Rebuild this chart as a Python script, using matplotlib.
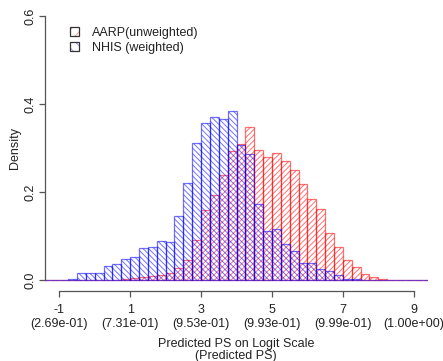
import numpy as np
import matplotlib.pyplot as plt
from matplotlib.patches import Patch
from matplotlib.legend_handler import HandlerTuple

plt.rcParams['font.family'] = ['Liberation Sans', 'DejaVu Sans']
plt.rcParams['hatch.linewidth'] = 0.7

# histogram bins on the logit scale (width 0.25)
bin_width = 0.25
bin_lo, bin_hi = -1.5, 9.5

# AARP (unweighted) densities, bins starting at 0.75
aarp_start = 0.75
aarp_density = [0.002, 0.004, 0.006, 0.009, 0.011, 0.015, 0.027, 0.046, 0.091, 0.159,
                0.193, 0.239, 0.293, 0.308, 0.347, 0.295, 0.279, 0.289, 0.270, 0.250,
                0.218, 0.185, 0.161, 0.108, 0.075, 0.046, 0.030, 0.014, 0.007, 0.003]

# NHIS (weighted) densities, bins starting at -0.75
nhis_start = -0.75
nhis_density = [0.002, 0.015, 0.017, 0.015, 0.031, 0.037, 0.048, 0.053, 0.072, 0.075,
                0.089, 0.087, 0.146, 0.220, 0.311, 0.357, 0.371, 0.366, 0.383, 0.306,
                0.286, 0.172, 0.111, 0.115, 0.083, 0.065, 0.038, 0.039, 0.024, 0.020,
                0.011, 0.002, 0.002]

tick_logit = [-1, 1, 3, 5, 7, 9]
tick_ps = ["(2.69e-01)", "(7.31e-01)", "(9.53e-01)", "(9.93e-01)", "(9.99e-01)", "(1.00e+00)"]
y_ticks = [0.0, 0.2, 0.4, 0.6]

edges = np.arange(bin_lo, bin_hi + bin_width / 2, bin_width)
lefts = edges[:-1]


def full_heights(start, vals):
    h = np.zeros(len(lefts))
    i0 = int(round((start - bin_lo) / bin_width))
    h[i0:i0 + len(vals)] = vals
    return h


red = (1, 0, 0, 0.55)
blue = (0, 0, 1, 0.55)
fs = 9.0

fig = plt.figure(figsize=(4.43, 3.61), dpi=100)
ax = fig.add_axes([45 / 443, 70.4 / 361, 383 / 443, 285.2 / 361])

ax.bar(lefts, full_heights(aarp_start, aarp_density), width=bin_width, align='edge',
       facecolor='none', edgecolor=red, hatch='//////', linewidth=0.9)
ax.bar(lefts, full_heights(nhis_start, nhis_density), width=bin_width, align='edge',
       facecolor='none', edgecolor=blue, hatch='\\\\\\\\\\\\', linewidth=0.9)

ax.set_xlim(-1.4, 9.4)
ax.set_ylim(-0.024, 0.624)
for s in ['top', 'right']:
    ax.spines[s].set_visible(False)
ax.spines['left'].set_bounds(0, 0.6)
ax.spines['bottom'].set_bounds(-1, 9)
for s in ['left', 'bottom']:
    ax.spines[s].set_color('#555555')
    ax.spines[s].set_linewidth(0.9)

ax.set_xticks(tick_logit)
ax.set_xticklabels([f"{t}\n{p}" for t, p in zip(tick_logit, tick_ps)],
                   linespacing=1.15, multialignment='center')
ax.set_yticks(y_ticks)
ax.set_yticklabels([f"{v:.1f}" for v in y_ticks], rotation=90, va='center')
ax.tick_params(axis='both', direction='out', length=4.3, width=0.9, color='#555555',
               labelsize=fs, labelcolor='#222222')
ax.tick_params(axis='x', pad=5.5)
ax.tick_params(axis='y', pad=2)

ax.set_ylabel("Density", fontsize=fs, color='#222222', labelpad=2)
fig.text(236 / 443, 1 - 350 / 361, "Predicted PS on Logit Scale\n(Predicted PS)",
         ha='center', va='center', fontsize=fs, color='#222222', linespacing=1.1)

# legend keys: sparse hatch with a dark outline on top
handles = [
    (Patch(facecolor='none', edgecolor=(1, 0, 0, 0.4), hatch='///', linewidth=0),
     Patch(facecolor='none', edgecolor='#333333', linewidth=0.9)),
    (Patch(facecolor='none', edgecolor=(0, 0, 1, 0.4), hatch='\\\\\\', linewidth=0),
     Patch(facecolor='none', edgecolor='#333333', linewidth=0.9)),
]
leg = ax.legend(handles, ["AARP(unweighted)", "NHIS (weighted)"],
                handler_map={tuple: HandlerTuple(ndivide=1, pad=0)},
                loc='upper left', bbox_to_anchor=(70 / 443, 1 - 27 / 361),
                bbox_transform=fig.transFigure, frameon=False, fontsize=fs,
                handlelength=0.75, handleheight=0.75, handletextpad=1.0,
                labelspacing=0.25, borderpad=0, borderaxespad=0)
for t in leg.get_texts():
    t.set_color('#222222')

fig.savefig("out.png", dpi=100)
